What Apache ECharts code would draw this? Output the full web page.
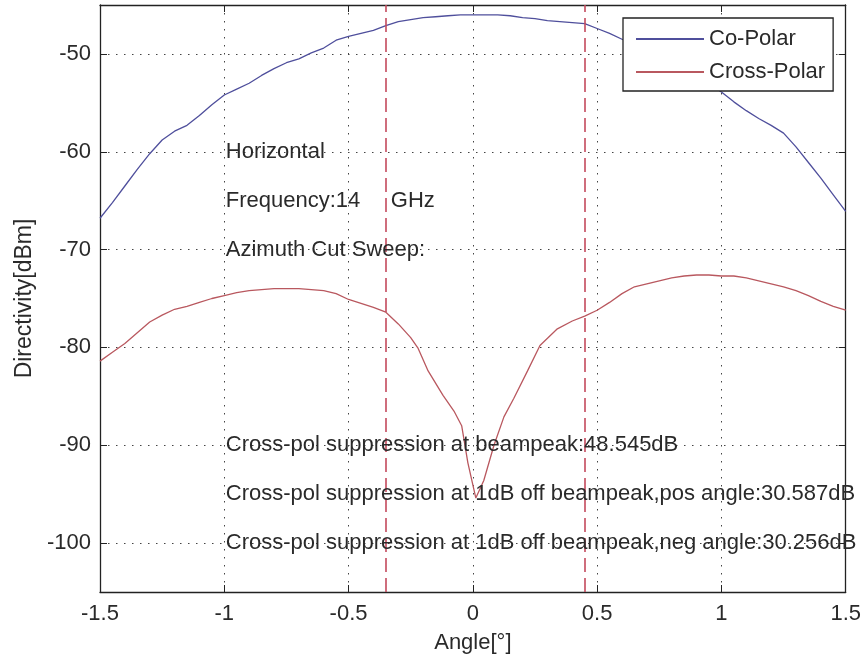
<!DOCTYPE html>
<html>
<head>
<meta charset="utf-8">
<script src="https://cdn.jsdelivr.net/npm/echarts@6/dist/echarts.min.js"></script>
<style>
  html, body { margin: 0; padding: 0; background: #fff; }
  #chart { width: 864px; height: 659px; }
</style>
</head>
<body>
<div id="chart"></div>
<script>
// Co-polar directivity pattern (azimuth cut)
const coAngles = [-1.50, -1.45, -1.40, -1.35, -1.30, -1.25, -1.20, -1.15, -1.10, -1.05,
  -1.00, -0.95, -0.90, -0.85, -0.80, -0.75, -0.70, -0.65, -0.60, -0.55,
  -0.50, -0.45, -0.40, -0.35, -0.30, -0.25, -0.20, -0.15, -0.10, -0.05,
  0.00, 0.05, 0.10, 0.15, 0.20, 0.25, 0.30, 0.35, 0.40, 0.45,
  0.50, 0.55, 0.60, 0.65, 0.70, 0.75, 0.80, 0.85, 0.90, 0.95,
  1.00, 1.05, 1.10, 1.15, 1.20, 1.25, 1.30, 1.35, 1.40, 1.45, 1.50];
const coValues = [-66.8, -65.2, -63.5, -61.8, -60.2, -58.8, -57.9, -57.3, -56.3, -55.2,
  -54.2, -53.6, -53.0, -52.2, -51.5, -50.9, -50.5, -49.9, -49.4, -48.6,
  -48.2, -47.9, -47.6, -47.1, -46.7, -46.5, -46.3, -46.2, -46.1, -46.0,
  -46.0, -46.0, -46.0, -46.1, -46.3, -46.4, -46.6, -46.7, -46.8, -46.9,
  -47.4, -47.9, -48.5, -49.0, -49.6, -50.2, -50.9, -51.6, -52.4, -53.1,
  -53.9, -54.9, -55.8, -56.6, -57.3, -58.1, -59.5, -61.1, -62.7, -64.4, -66.1];

// Cross-polar directivity pattern
const crossAngles = [-1.50, -1.45, -1.40, -1.35, -1.30, -1.25, -1.20, -1.15, -1.10, -1.05,
  -1.00, -0.95, -0.90, -0.85, -0.80, -0.75, -0.70, -0.65, -0.60, -0.55,
  -0.50, -0.45, -0.40, -0.35, -0.30, -0.25, -0.22, -0.18, -0.12, -0.076,
  -0.045, -0.02, 0.012, 0.044, 0.085, 0.125, 0.165, 0.22, 0.27, 0.34,
  0.40, 0.45, 0.50, 0.55, 0.60, 0.65, 0.70, 0.75, 0.80, 0.85,
  0.90, 0.95, 1.00, 1.05, 1.10, 1.15, 1.20, 1.25, 1.30, 1.35, 1.40, 1.45, 1.50];
const crossValues = [-81.4, -80.5, -79.6, -78.5, -77.4, -76.7, -76.1, -75.8, -75.4, -75.0,
  -74.7, -74.4, -74.2, -74.1, -74.0, -74.0, -74.0, -74.1, -74.2, -74.5,
  -75.1, -75.5, -75.9, -76.4, -77.6, -79.0, -80.1, -82.4, -84.9, -86.5,
  -88.0, -91.8, -95.4, -93.6, -90.0, -87.1, -85.2, -82.4, -79.8, -78.1,
  -77.3, -76.8, -76.2, -75.4, -74.5, -73.8, -73.5, -73.2, -72.9, -72.7,
  -72.6, -72.6, -72.7, -72.7, -72.9, -73.2, -73.5, -73.8, -74.2, -74.7, -75.3, -75.8, -76.2];

// 1 dB beamwidth markers (deg)
const beamEdges = [-0.35, 0.45];

// Axis ticks
const xTicks = [-1.5, -1, -0.5, 0, 0.5, 1, 1.5];
const yTicks = [-100, -90, -80, -70, -60, -50];

// Annotation text: [angle, level, text]
const noteAngles = [-1.0, -1.0, -1.0, -1.0, -1.0, -1.0];
const noteLevels = [-60, -65, -70, -90, -95, -100];
const noteTexts = [
  'Horizontal',
  'Frequency:14     GHz',
  'Azimuth Cut Sweep:',
  'Cross-pol suppression at beampeak:48.545dB',
  'Cross-pol suppression at 1dB off beampeak,pos angle:30.587dB',
  'Cross-pol suppression at 1dB off beampeak,neg angle:30.256dB'
];

const FONT = 'Liberation Sans, Arial, sans-serif';
const TXT = '#2a2a2a';
const zip = (a, b) => a.map((v, i) => [v, b[i]]);

const chart = echarts.init(document.getElementById('chart'), null, { renderer: 'canvas' });

const gridLine = { show: true, lineStyle: { color: '#444', width: 1, type: [1.5, 6.5] } };
const boxLine = { show: true, onZero: false, lineStyle: { color: '#222', width: 1.3 } };
const tick = { show: true, inside: true, length: 7, lineStyle: { color: '#222' } };

chart.setOption({
  animation: false,
  backgroundColor: '#fff',
  grid: { left: 100, right: 17, top: 5, bottom: 65, containLabel: false },
  legend: {
    orient: 'vertical',
    left: 623, top: 18,
    padding: [10, 8, 8, 13],
    itemGap: 11,
    itemWidth: 68, itemHeight: 2,
    icon: 'rect',
    backgroundColor: '#fff',
    borderColor: '#222', borderWidth: 1.3,
    textStyle: { fontFamily: FONT, fontSize: 22, color: TXT },
    data: ['Co-Polar', 'Cross-Polar']
  },
  xAxis: [
    {
      type: 'value', min: -1.5, max: 1.5, interval: 0.5, position: 'bottom',
      name: 'Angle[°]', nameLocation: 'middle', nameGap: 40,
      nameTextStyle: { fontFamily: FONT, fontSize: 22, color: TXT },
      axisLine: boxLine,
      axisTick: tick,
      axisLabel: { fontFamily: FONT, fontSize: 22, color: TXT, margin: 11,
        customValues: xTicks, formatter: v => String(v) },
      splitLine: gridLine
    },
    {
      type: 'value', min: -1.5, max: 1.5, interval: 0.5, position: 'top',
      axisLine: boxLine,
      axisTick: tick,
      axisLabel: { show: false }, splitLine: { show: false }
    }
  ],
  yAxis: [
    {
      type: 'value', min: -105, max: -45, position: 'left',
      name: 'Directivity[dBm]', nameLocation: 'middle', nameGap: 64, nameRotate: 90,
      nameTextStyle: { fontFamily: FONT, fontSize: 23, color: TXT },
      axisLine: boxLine,
      axisTick: Object.assign({ customValues: yTicks }, tick),
      axisLabel: { fontFamily: FONT, fontSize: 22, color: TXT, margin: 9, customValues: yTicks },
      splitLine: gridLine
    },
    {
      type: 'value', min: -105, max: -45, position: 'right',
      axisLine: boxLine,
      axisTick: Object.assign({ customValues: yTicks }, tick),
      axisLabel: { show: false, customValues: yTicks }, splitLine: { show: false }
    }
  ],
  series: [
    {
      name: 'Co-Polar', type: 'line', xAxisIndex: 0, yAxisIndex: 0,
      data: zip(coAngles, coValues),
      symbol: 'none', showSymbol: false,
      lineStyle: { color: '#4f4f9c', width: 1.3 },
      itemStyle: { color: '#4f4f9c' },
      z: 3
    },
    {
      name: 'Cross-Polar', type: 'line', xAxisIndex: 0, yAxisIndex: 0,
      data: zip(crossAngles, crossValues),
      symbol: 'none', showSymbol: false,
      lineStyle: { color: '#b9585f', width: 1.3 },
      itemStyle: { color: '#b9585f' },
      z: 3,
      markLine: {
        silent: true, symbol: 'none', label: { show: false },
        lineStyle: { color: '#c44a5d', width: 1.6, type: [14, 6] },
        data: beamEdges.map(a => ({ xAxis: a }))
      }
    },
    {
      name: 'notes', type: 'scatter', xAxisIndex: 0, yAxisIndex: 0,
      data: noteAngles.map((a, i) => [a, noteLevels[i], noteTexts[i]]),
      symbolSize: 1, itemStyle: { color: 'rgba(0,0,0,0)' },
      silent: true, z: 5,
      label: {
        show: true, position: 'right', distance: 1,
        fontFamily: FONT, fontSize: 22, color: TXT, opacity: 1,
        formatter: p => p.data[2]
      }
    }
  ]
});
</script>
</body>
</html>
